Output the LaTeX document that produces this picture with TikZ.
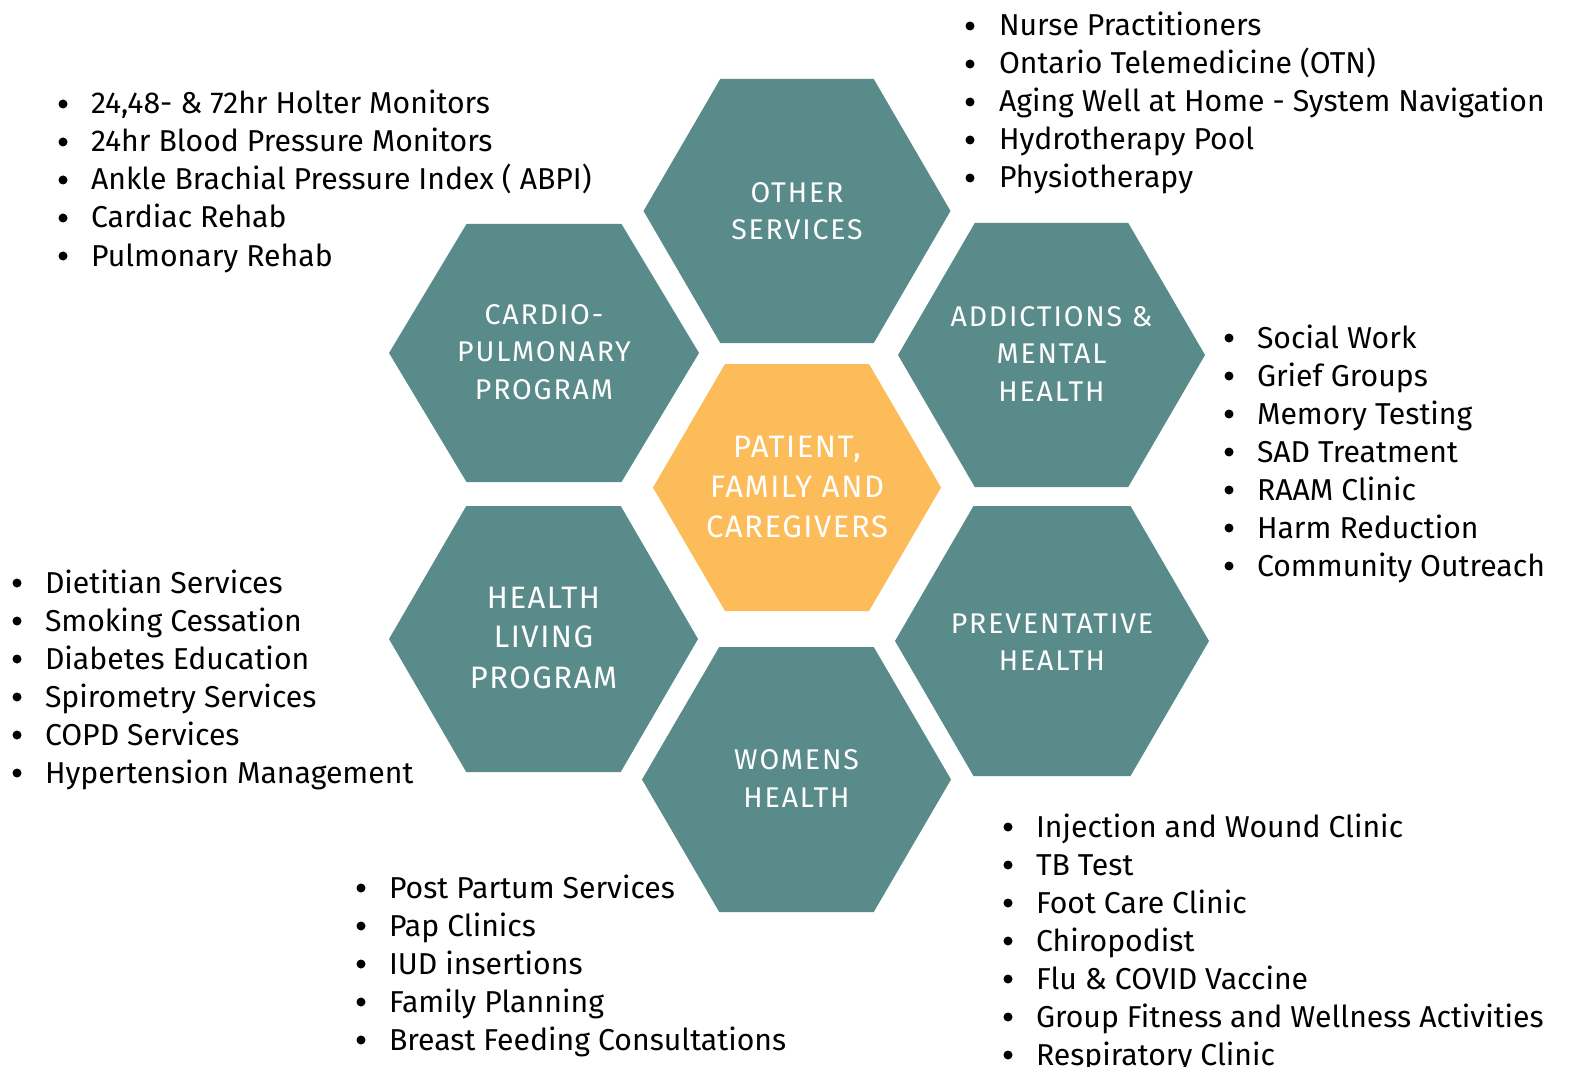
\documentclass[tikz,border=0pt]{standalone}
\usepackage{fontspec}
\setmainfont{Fira Sans}
\newfontfamily\hexfont[LetterSpace=6.5]{Fira Sans}
\newfontfamily\hexbigfont[LetterSpace=5]{Fira Sans}
\definecolor{teal}{HTML}{5A8B8B}
\definecolor{orng}{HTML}{FDBC5A}
\newcommand\hexa[5]{\fill[#5] ({#1-#3},#2) -- ({#1-#3/2},{#2-#4}) -- ({#1+#3/2},{#2-#4}) -- ({#1+#3},#2) -- ({#1+#3/2},{#2+#4}) -- ({#1-#3/2},{#2+#4}) -- cycle;}
\newcommand\blist[5]{%
  \foreach \t [count=\i from 0] in {#5} {%
    \fill ({#2}, {#4+38*\i+1}) circle (4.5);
    \node[item, anchor=base west] (#1-\i) at ({#3}, {#4+38*\i+11}) {\t};
  }}
\tikzset{
  item/.style={font=\fontsize{30.2}{34}\selectfont, text=black},
  hexlab/.style={font=\hexfont\fontsize{28.5}{37.5}\selectfont, text=white, align=center},
  hexbig/.style={font=\hexbigfont\fontsize{31}{40}\selectfont, text=white, align=center},
}
\begin{document}
\begin{tikzpicture}[x=1pt,y=-1pt, every node/.style={inner sep=0pt, outer sep=0pt}]
\useasboundingbox (0,0) rectangle (1570,1067);
\fill[white] (0,0) rectangle (1570,1067);
% hexagons
\hexa{797}{211}{153.5}{132}{teal}
\hexa{544}{353}{155}{129}{teal}
\hexa{797}{487.5}{144}{123.5}{orng}
\hexa{1051.5}{355}{153.5}{132}{teal}
\hexa{543.5}{639}{154.5}{133}{teal}
\hexa{1052}{641}{157}{135}{teal}
\hexa{796.5}{779.5}{154.5}{132.5}{teal}
% labels
\node[hexlab] (other) at (797,211) {OTHER\\SERVICES};
\node[hexlab] (cardio) at (544,352) {CARDIO-\\PULMONARY\\PROGRAM};
\node[hexbig] (center) at (797,487.5) {PATIENT,\\FAMILY AND\\CAREGIVERS};
\node[hexlab] (addict) at (1051.5,354) {ADDICTIONS \&\\MENTAL\\HEALTH};
\node[hexbig] (health) at (543.5,637.5) {HEALTH\\LIVING\\PROGRAM};
\node[hexlab] (prevent) at (1052,642) {PREVENTATIVE\\HEALTH};
\node[hexlab] (womens) at (796.5,778.5) {WOMENS\\HEALTH};
% lists
\blist{tl}{63}{91}{103}{{24,48- \& 72hr Holter Monitors},24hr Blood Pressure Monitors,Ankle Brachial Pressure Index ( ABPI),Cardiac Rehab,Pulmonary Rehab}
\blist{tr}{970}{999}{25}{Nurse Practitioners,Ontario Telemedicine (OTN),Aging Well at Home - System Navigation,Hydrotherapy Pool,Physiotherapy}
\blist{rt}{1229}{1257}{337}{Social Work,Grief Groups,Memory Testing,SAD Treatment,RAAM Clinic,Harm Reduction,Community Outreach}
\blist{lf}{17}{45}{582}{Dietitian Services,Smoking Cessation,Diabetes Education,Spirometry Services,COPD Services,Hypertension Management}
\blist{br}{1008}{1036}{826}{Injection and Wound Clinic,TB Test,Foot Care Clinic,Chiropodist,Flu \& COVID Vaccine,Group Fitness and Wellness Activities,Respiratory Clinic}
\blist{bm}{361}{389}{887}{Post Partum Services,Pap Clinics,IUD insertions,Family Planning,Breast Feeding Consultations}
\end{tikzpicture}
\end{document}
